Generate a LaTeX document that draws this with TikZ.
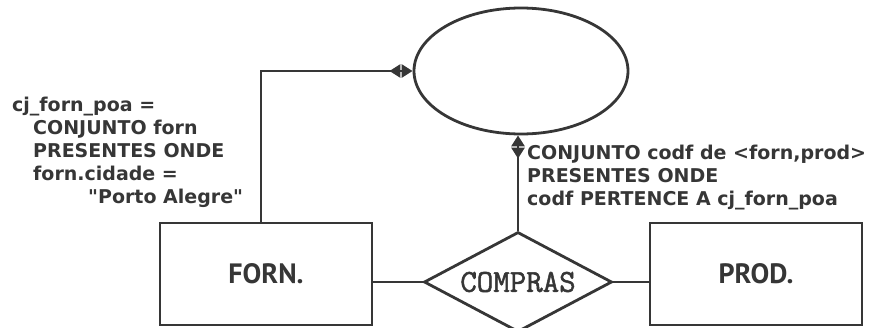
\documentclass[tikz,border=0pt]{standalone}
\usepackage{fontspec}
\usetikzlibrary{shapes.geometric,arrows.meta}
\newfontfamily\notefont{DejaVu Sans}
\newfontfamily\boxfont{PT Sans}
\newfontfamily\relfont[FakeBold=1.6]{Latin Modern Mono}
\definecolor{ink}{HTML}{363636}

\tikzset{
    entity/.style = {draw=ink, line width=2.8pt, minimum width=212pt, minimum height=102pt,
                     text=ink, font=\boxfont\bfseries\fontsize{28}{28}\selectfont},
    relation/.style = {draw=ink, line width=2.8pt, diamond, inner sep=0pt, aspect=1.9,
                       minimum width=188pt, minimum height=100pt,
                       text=ink, font=\relfont\fontsize{32}{32}\selectfont},
    note/.style = {align=left, inner sep=0pt, text=ink,
                   font=\notefont\bfseries\fontsize{19}{23}\selectfont},
    link/.style = {draw=ink, line width=2.8pt},
    dualtip/.style = {-{Triangle[reversed,length=11pt,width=13pt,sep=1.2pt]Triangle[length=11pt,width=13pt]}}
}

\begin{document}
\begin{tikzpicture}[x=1pt,y=-1pt]
    \useasboundingbox (0,0) rectangle (881,327);

    \node[draw=ink, line width=2.8pt, ellipse, minimum width=214pt, minimum height=126pt] (set) at (521,71) {};
    \node[entity] (forn) at (266,274) {FORN.};
    \node[entity] (prod) at (756,274) {PROD.};
    \node[relation] (compras) at (518,282) {COMPRAS};

    \node[note, anchor=north west] (fornset) at (12,97) {cj\_forn\_poa =\\
        \hspace*{21pt}CONJUNTO forn\\
        \hspace*{21pt}PRESENTES ONDE\\
        \hspace*{21pt}forn.cidade =\\
        \hspace*{76pt}"Porto Alegre"};
    \node[note, anchor=north west] (compset) at (527,145) {CONJUNTO codf de <forn,prod>\\
        PRESENTES ONDE\\
        codf PERTENCE A cj\_forn\_poa};

    \draw[link] (compras.west) -- (compras.west -| forn.east);
    \draw[link] (compras.east) -- (compras.east -| prod.west);
    \draw[link, dualtip] ([xshift=-5pt]forn.north) |- (set.west);
    \draw[link, dualtip] (compras.north) -- (compras.north |- set.south);
\end{tikzpicture}
\end{document}
